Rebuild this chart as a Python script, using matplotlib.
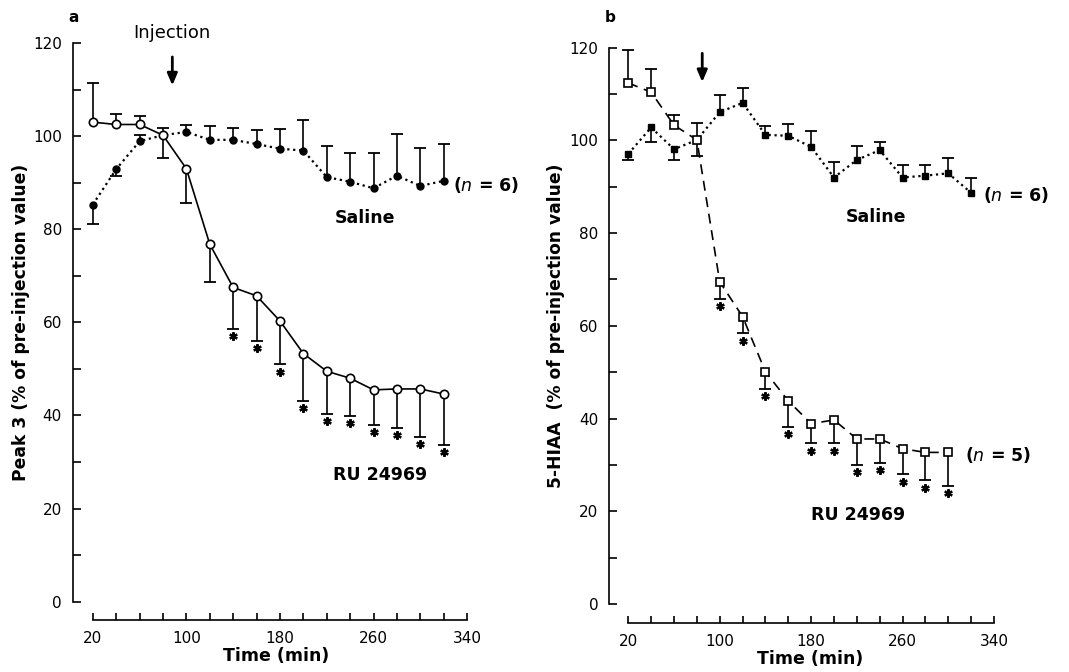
import numpy as np
import matplotlib
matplotlib.use("Agg")
import matplotlib.pyplot as plt

plt.rcParams['font.family'] = ['DejaVu Sans']

# panel a: peak 3
time_a = np.arange(20, 340, 20)
ru_a = [103.0, 102.5, 102.5, 100.2, 93.0, 76.8, 67.5, 65.7, 60.3, 53.3, 49.5, 48.0, 45.5, 45.7, 45.7, 44.6]
# signed s.e.m.: positive drawn up, negative drawn down
ru_a_sem = [8.5, 2.2, 1.8, -4.8, -7.4, -8.2, -8.9, -9.6, -9.3, -10.2, -9.1, -8.1, -7.5, -8.3, -10.3, -10.9]
sal_a = [85.3, 92.9, 98.9, 100.2, 100.9, 99.2, 99.2, 98.3, 97.3, 96.9, 91.2, 90.2, 88.8, 91.5, 89.3, 90.4]
sal_a_sem = [-4.1, -1.4, 1.4, 1.5, 1.5, 3.0, 2.6, 3.1, 4.3, 6.5, 6.7, 6.2, 7.6, 8.9, 8.2, 7.9]
stars_a = [140, 160, 180, 200, 220, 240, 260, 280, 300, 320]

# panel b: 5-HIAA
time_b_ru = np.arange(20, 320, 20)
ru_b = [112.4, 110.4, 103.3, 100.1, 69.5, 62.0, 50.1, 43.8, 38.9, 39.7, 35.6, 35.6, 33.5, 32.7, 32.7]
ru_b_sem = [7.0, 5.1, 2.1, 3.7, -3.6, -3.6, -3.7, -5.6, -4.2, -5.0, -5.6, -5.1, -5.5, -6.0, -7.2]
time_b_sal = np.arange(20, 340, 20)
sal_b = [97.1, 102.8, 98.1, 100.1, 106.1, 108.1, 101.2, 101.0, 98.6, 92.0, 95.8, 97.9, 92.0, 92.4, 92.9, 88.7]
sal_b_sem = [-1.3, -3.1, -2.3, -3.5, 3.7, 3.3, 1.9, 2.5, 3.5, 3.4, 3.1, 1.7, 2.7, 2.3, 3.4, 3.3]
stars_b = [100, 120, 140, 160, 180, 200, 220, 240, 260, 280, 300]


def one_sided_err(ax, t, v, sem):
    t = np.asarray(t)
    v = np.asarray(v)
    tip = v + np.asarray(sem)
    ax.vlines(t, v, tip, color='k', lw=1.2, zorder=2, clip_on=False)
    ax.plot(t, tip, ls='none', marker='_', ms=8, mew=1.3, color='k', zorder=2, clip_on=False)
    return tip


def add_stars(ax, t, v, sem, star_t):
    tip = np.asarray(v) + np.asarray(sem)
    idx = [list(t).index(s) for s in star_t]
    ax.plot(np.asarray(t)[idx], tip[idx] - 1.6, ls='none', marker=(6, 2, 0), ms=6,
            mew=1.6, color='k', clip_on=False, zorder=3)


def style_axes(ax, xlim):
    ax.set_xlim(*xlim)
    ax.set_ylim(0, 120)
    for s in ['top', 'right']:
        ax.spines[s].set_visible(False)
    ax.spines['left'].set_bounds(0, 120)
    ax.spines['bottom'].set_position(('outward', 13))
    ax.spines['bottom'].set_bounds(20, 340)
    for s in ['left', 'bottom']:
        ax.spines[s].set_linewidth(1.2)
    ax.set_yticks(np.arange(0, 121, 20))
    ax.set_yticks(np.arange(10, 120, 20), minor=True)
    ax.set_xticks(np.arange(20, 341, 80))
    ax.set_xticks(np.arange(20, 341, 20), minor=True)
    ax.tick_params(axis='y', which='both', direction='in', length=6, width=1.2,
                   labelsize=11, pad=8)
    ax.tick_params(axis='x', which='both', direction='in', length=5, width=1.2,
                   labelsize=11, pad=8)
    ax.set_xlabel('Time (min)', fontsize=12.5, fontweight='bold', labelpad=1)


fig = plt.figure(figsize=(10.69, 6.72), dpi=100)

# ---- panel a
ax1 = fig.add_axes([0.0683, 0.1046, 0.3807, 0.8314])
style_axes(ax1, (3.1, 351))
ax1.plot(time_a, sal_a, ls=':', lw=1.6, color='k', zorder=1)
ax1.plot(time_a, ru_a, ls='-', lw=1.2, color='k', zorder=1)
one_sided_err(ax1, time_a, sal_a, sal_a_sem)
one_sided_err(ax1, time_a, ru_a, ru_a_sem)
ax1.plot(time_a, sal_a, ls='none', marker='o', ms=5, color='k', zorder=4, clip_on=False)
ax1.plot(time_a, ru_a, ls='none', marker='o', ms=6, mfc='white', mec='k', mew=1.2,
         zorder=5, clip_on=False)
add_stars(ax1, time_a, ru_a, ru_a_sem, stars_a)
ax1.annotate('', xy=(88, 110.3), xytext=(88, 117.6), annotation_clip=False,
             arrowprops=dict(arrowstyle='-|>,head_length=0.7,head_width=0.3', lw=2, color='k'))
ax1.text(88, 122.2, 'Injection', ha='center', va='center', fontsize=13)
ax1.text(253, 82.4, 'Saline', ha='center', va='center', fontsize=12.5, fontweight='bold')
ax1.text(266, 27.2, 'RU 24969', ha='center', va='center', fontsize=12.5, fontweight='bold')
ax1.text(328, 89.5, '($\\mathbf{\\it{n}}$ = 6)', ha='left', va='center', fontsize=12.5,
         fontweight='bold', clip_on=False)
ax1.set_ylabel('Peak 3 (% of pre-injection value)', fontsize=12.3, fontweight='bold',
               labelpad=2)
ax1.text(3.8, 125.4, 'a', ha='center', va='center', fontsize=11, fontweight='bold')

# ---- panel b
ax2 = fig.add_axes([0.570, 0.1012, 0.3748, 0.8278])
style_axes(ax2, (3.4, 354))
ax2.spines['bottom'].set_position(('outward', 13.5))
ax2.plot(time_b_sal, sal_b, ls=':', lw=1.6, color='k', zorder=1)
ax2.plot(time_b_ru, ru_b, ls=(0, (6, 4)), lw=1.2, color='k', zorder=1)
one_sided_err(ax2, time_b_sal, sal_b, sal_b_sem)
one_sided_err(ax2, time_b_ru, ru_b, ru_b_sem)
ax2.plot(time_b_sal, sal_b, ls='none', marker='s', ms=5, color='k', zorder=4, clip_on=False)
ax2.plot(time_b_ru, ru_b, ls='none', marker='s', ms=5.5, mfc='white', mec='k', mew=1.2,
         zorder=5, clip_on=False)
add_stars(ax2, time_b_ru, ru_b, ru_b_sem, stars_b)
ax2.annotate('', xy=(84.7, 112.0), xytext=(84.7, 119.4), annotation_clip=False,
             arrowprops=dict(arrowstyle='-|>,head_length=0.7,head_width=0.3', lw=2, color='k'))
ax2.text(237, 83.5, 'Saline', ha='center', va='center', fontsize=12.5, fontweight='bold')
ax2.text(221, 19.2, 'RU 24969', ha='center', va='center', fontsize=12.5, fontweight='bold')
ax2.text(330.5, 88.2, '($\\mathbf{\\it{n}}$ = 6)', ha='left', va='center', fontsize=12.5,
         fontweight='bold', clip_on=False)
ax2.text(314.5, 32.1, '($\\mathbf{\\it{n}}$ = 5)', ha='left', va='center', fontsize=12.5,
         fontweight='bold', clip_on=False)
ax2.set_ylabel('5-HIAA  (% of pre-injection value)', fontsize=12.3, fontweight='bold',
               labelpad=3)
ax2.text(4, 126.6, 'b', ha='center', va='center', fontsize=11, fontweight='bold')

fig.savefig('out.png', dpi=100)
